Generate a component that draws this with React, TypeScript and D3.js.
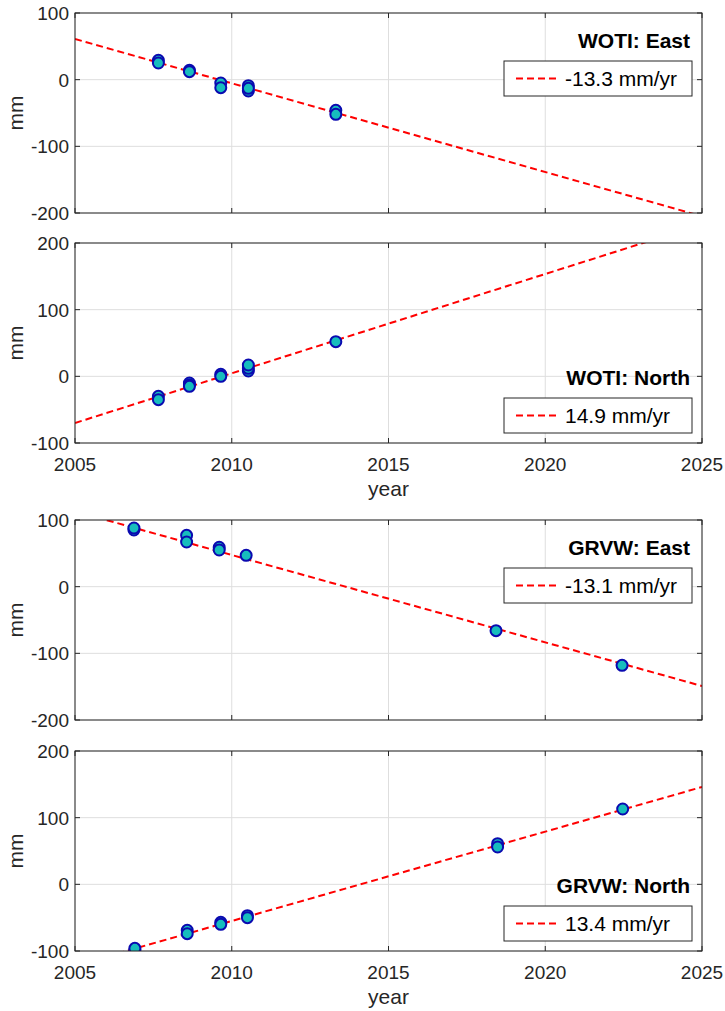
import React from "react";
import * as d3 from "d3";

// ---- data ----
const wotiEastYears = [2007.66, 2007.66, 2008.65, 2008.65, 2009.65, 2009.65, 2010.53, 2010.53, 2010.53, 2013.32, 2013.32];
const wotiEastMm = [29, 25, 14, 12, -5, -12, -9, -17, -13, -46, -52];
const wotiNorthYears = [2007.66, 2007.66, 2008.65, 2008.65, 2008.65, 2009.65, 2009.65, 2010.53, 2010.53, 2010.53, 2013.32];
const wotiNorthMm = [-30, -35, -10, -13, -15, 3, 0, 8, 12, 17, 52];
const grvwEastYears = [2006.88, 2006.88, 2008.56, 2008.56, 2009.6, 2009.6, 2010.46, 2018.43, 2022.45];
const grvwEastMm = [85, 88, 77, 67, 59, 55, 47, -66, -118];
const grvwNorthYears = [2006.91, 2006.91, 2008.58, 2008.58, 2009.65, 2009.65, 2010.5, 2010.5, 2018.48, 2018.48, 2022.47];
const grvwNorthMm = [-99, -96, -69, -74, -57, -60, -47, -50, 61, 56, 113];

const panelTitles = ["WOTI: East", "WOTI: North", "GRVW: East", "GRVW: North"];
const rateLabels = ["-13.3 mm/yr", "14.9 mm/yr", "-13.1 mm/yr", "13.4 mm/yr"];
const rates = [-13.3, 14.9, -13.1, 13.4];
const trendAt2005 = [61, -70, 113, -122];
const yDomains: [number, number][] = [[-200, 100], [-100, 200], [-200, 100], [-100, 200]];
const yTickSets = [[-200, -100, 0, 100], [-100, 0, 100, 200], [-200, -100, 0, 100], [-100, 0, 100, 200]];
const xTicks = [2005, 2010, 2015, 2020, 2025];
const xDomain: [number, number] = [2005, 2025];

const seriesYears = [wotiEastYears, wotiNorthYears, grvwEastYears, grvwNorthYears];
const seriesMm = [wotiEastMm, wotiNorthMm, grvwEastMm, grvwNorthMm];

// ---- layout ----
const W = 725, H = 1011;
const left = 75, right = 702;
const panelTops = [13, 243, 520, 751];
const panelH = 200;
const showXLabels = [false, true, false, true];
const legendTop = [true, false, true, false];

const TXT = "#262626";
const FONT = "'Liberation Sans', Arial, sans-serif";
const TICK_FS = 19;
const LABEL_FS = 21;

function Panel({ i }: { i: number }) {
  const top = panelTops[i];
  const bottom = top + panelH;
  const x = d3.scaleLinear().domain(xDomain).range([left, right]);
  const y = d3.scaleLinear().domain(yDomains[i]).range([bottom, top]);
  const clipId = `clip${i}`;
  const lineGen = d3.line<number>().x((t) => x(t)).y((t) => y(trendAt2005[i] + rates[i] * (t - 2005)));
  const ts = [2005, 2025];
  const pts = seriesYears[i].map((t, k) => ({ t, v: seriesMm[i][k] }));

  const boxW = 188, boxH = 35;
  const boxX = right - 10 - boxW;
  let titleBase: number, boxY: number;
  if (legendTop[i]) {
    titleBase = top + 35;
    boxY = top + 48;
  } else {
    boxY = bottom - 10 - boxH;
    titleBase = boxY - 13;
  }
  const midY = (top + bottom) / 2;

  return (
    <g>
      <defs>
        <clipPath id={clipId}>
          <rect x={left} y={top} width={right - left} height={panelH} />
        </clipPath>
      </defs>
      <rect x={left} y={top} width={right - left} height={panelH} fill="#fff" />
      {xTicks.map((t) => (
        <line key={"gx" + t} x1={x(t)} x2={x(t)} y1={top} y2={bottom} stroke="#dedede" strokeWidth={1} />
      ))}
      {yTickSets[i].map((v) => (
        <line key={"gy" + v} x1={left} x2={right} y1={y(v)} y2={y(v)} stroke="#dedede" strokeWidth={1} />
      ))}
      {xTicks.map((t) => (
        <g key={"tx" + t}>
          <line x1={x(t)} x2={x(t)} y1={bottom} y2={bottom - 5} stroke="#262626" strokeWidth={1} />
          <line x1={x(t)} x2={x(t)} y1={top} y2={top + 5} stroke="#262626" strokeWidth={1} />
        </g>
      ))}
      {yTickSets[i].map((v) => (
        <g key={"ty" + v}>
          <line x1={left} x2={left + 5} y1={y(v)} y2={y(v)} stroke="#262626" strokeWidth={1} />
          <line x1={right} x2={right - 5} y1={y(v)} y2={y(v)} stroke="#262626" strokeWidth={1} />
        </g>
      ))}
      <g clipPath={`url(#${clipId})`}>
        <path d={lineGen(ts) || ""} fill="none" stroke="#ff0000" strokeWidth={2} strokeDasharray="7,4" />
        {pts.map((p, k) => (
          <circle key={k} cx={x(p.t)} cy={y(p.v)} r={5.5} fill="#17BDBD" stroke="#0A0AB0" strokeWidth={2} />
        ))}
      </g>
      <rect x={left} y={top} width={right - left} height={panelH} fill="none" stroke="#262626" strokeWidth={1} />
      {yTickSets[i].map((v) => (
        <text key={"yl" + v} x={left - 6} y={y(v)} dy="0.36em" textAnchor="end" fontSize={TICK_FS} fill={TXT} fontFamily={FONT}>
          {v}
        </text>
      ))}
      {showXLabels[i] &&
        xTicks.map((t) => (
          <text key={"xl" + t} x={x(t)} y={bottom + 27.5} textAnchor="middle" fontSize={TICK_FS} fill={TXT} fontFamily={FONT}>
            {t}
          </text>
        ))}
      {showXLabels[i] && (
        <text x={(left + right) / 2} y={bottom + 53} textAnchor="middle" fontSize={LABEL_FS} fill={TXT} fontFamily={FONT}>
          year
        </text>
      )}
      <text
        transform={`translate(${23},${midY}) rotate(-90)`}
        textAnchor="middle"
        fontSize={LABEL_FS}
        fill={TXT}
        fontFamily={FONT}
      >
        mm
      </text>
      <text x={right - 12} y={titleBase} textAnchor="end" fontSize={LABEL_FS} fontWeight="bold" fill="#000" fontFamily={FONT}>
        {panelTitles[i]}
      </text>
      <rect x={boxX} y={boxY} width={boxW} height={boxH} fill="#fff" stroke="#262626" strokeWidth={1} />
      <line
        x1={boxX + 12}
        x2={boxX + 52}
        y1={boxY + boxH / 2}
        y2={boxY + boxH / 2}
        stroke="#ff0000"
        strokeWidth={2}
        strokeDasharray="7,4"
      />
      <text x={boxX + 61} y={boxY + boxH / 2} dy="0.36em" fontSize={LABEL_FS} fill="#000" fontFamily={FONT}>
        {rateLabels[i]}
      </text>
    </g>
  );
}

export default function App() {
  return (
    <svg width={W} height={H} style={{ position: "absolute", left: 0, top: 0, background: "#fff" }}>
      <rect x={0} y={0} width={W} height={H} fill="#fff" />
      {[0, 1, 2, 3].map((i) => (
        <Panel key={i} i={i} />
      ))}
    </svg>
  );
}
